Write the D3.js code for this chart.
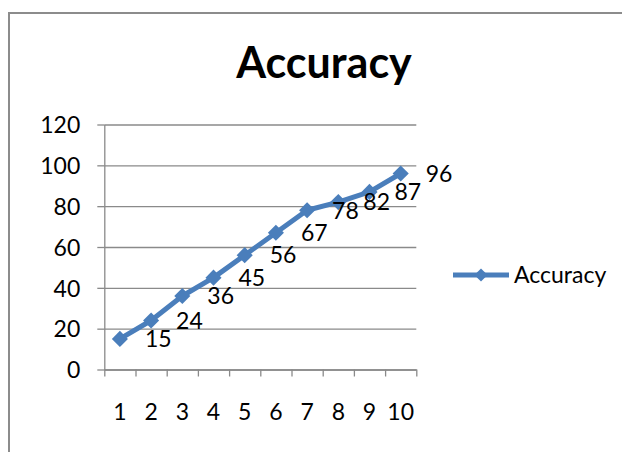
<!DOCTYPE html>
<html>
<head>
<meta charset="utf-8">
<script src="https://cdn.jsdelivr.net/npm/d3@7"></script>
<style>
  body { margin: 0; background: #fff; }
  svg text { font-family: Lato, "Open Sans", sans-serif; fill: #000; }
  .grid line { stroke: #8a8a8a; stroke-width: 1.3; }
  .grid path { display: none; }
  .axis path, .axis line { stroke: #8a8a8a; stroke-width: 1.3; }
</style>
</head>
<body>
<div id="chart"></div>
<script>
// chart data
var categories = ["1", "2", "3", "4", "5", "6", "7", "8", "9", "10"];
var accuracy = [15, 24, 36, 45, 56, 67, 78, 82, 87, 96];
var yTicks = [0, 20, 40, 60, 80, 100, 120];
var seriesName = "Accuracy";
var title = "Accuracy";

var W = 622, H = 452;
var margin = {top: 124.5, left: 104.3},
    width = 312,
    height = 245;

var blue = "#4a7ebb";

var svg = d3.select("#chart").append("svg")
    .attr("width", W)
    .attr("height", H);

// outer chart frame (runs off the right/bottom edges)
svg.append("rect")
    .attr("x", 9).attr("y", 13)
    .attr("width", W + 20).attr("height", H + 20)
    .attr("fill", "#fff")
    .attr("stroke", "#8c8c8c")
    .attr("stroke-width", 2);

svg.append("text")
    .attr("x", 324).attr("y", 78)
    .attr("text-anchor", "middle")
    .style("font-size", "43px")
    .style("font-weight", "bold")
    .text(title);

var g = svg.append("g")
    .attr("transform", "translate(" + margin.left + "," + margin.top + ")");

var x = d3.scaleBand().domain(categories).range([0, width]);
var xEdge = d3.scaleLinear().domain([0, categories.length]).range([0, width]);
var y = d3.scaleLinear().domain([0, 120]).range([height, 0]);

// gridlines
g.append("g")
    .attr("class", "grid")
    .call(d3.axisLeft(y).tickValues(yTicks).tickSize(-width).tickFormat(""));

// y axis
var yAx = g.append("g")
    .attr("class", "axis")
    .call(d3.axisLeft(y).tickValues(yTicks).tickSize(7).tickSizeOuter(0).tickPadding(17));
yAx.selectAll("text").style("font-size", "23px").attr("dy", "0.36em");

// x axis line + ticks at category edges
g.append("g")
    .attr("class", "axis")
    .attr("transform", "translate(0," + height + ")")
    .call(d3.axisBottom(xEdge).tickValues(d3.range(categories.length + 1))
        .tickSize(7).tickSizeOuter(0).tickFormat(""));

// x labels
var xAx = g.append("g")
    .attr("transform", "translate(0," + height + ")")
    .call(d3.axisBottom(x).tickSize(0).tickPadding(34));
xAx.select(".domain").remove();
xAx.selectAll("text").style("font-size", "23px");

// series line
var line = d3.line()
    .x(function(d, i) { return x(categories[i]) + x.bandwidth() / 2; })
    .y(function(d) { return y(d); });

g.append("path")
    .datum(accuracy)
    .attr("fill", "none")
    .attr("stroke", blue)
    .attr("stroke-width", 5)
    .attr("stroke-linejoin", "round")
    .attr("d", line);

var diamond = d3.symbol().type(d3.symbolDiamond2).size(165);

g.selectAll(".marker")
    .data(accuracy)
  .enter().append("path")
    .attr("class", "marker")
    .attr("d", diamond)
    .attr("fill", blue)
    .attr("transform", function(d, i) {
        return "translate(" + (x(categories[i]) + x.bandwidth() / 2) + "," + y(d) + ")";
    });

// data labels, to the right of each point
g.selectAll(".dlabel")
    .data(accuracy)
  .enter().append("text")
    .attr("class", "dlabel")
    .attr("x", function(d, i) { return x(categories[i]) + x.bandwidth() / 2 + 25; })
    .attr("y", function(d) { return y(d); })
    .attr("dy", "0.36em")
    .style("font-size", "23px")
    .text(function(d) { return d; });

// legend
var legend = svg.append("g").attr("transform", "translate(453,275)");
legend.append("line")
    .attr("x1", 0).attr("x2", 56)
    .attr("stroke", blue).attr("stroke-width", 5);
legend.append("path")
    .attr("d", d3.symbol().type(d3.symbolDiamond2).size(110))
    .attr("transform", "translate(28,0)")
    .attr("fill", blue);
legend.append("text")
    .attr("x", 61).attr("y", 0).attr("dy", "0.36em")
    .style("font-size", "23px")
    .text(seriesName);
</script>
</body>
</html>
